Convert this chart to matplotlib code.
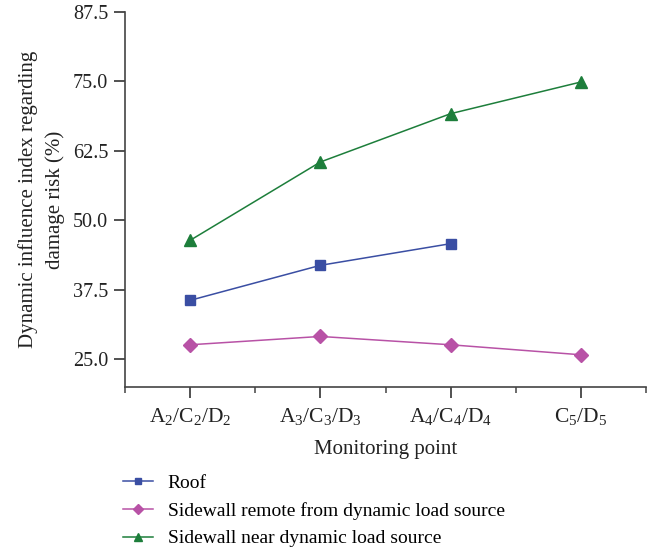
import matplotlib
matplotlib.use("Agg")
import matplotlib.pyplot as plt
from matplotlib.ticker import FixedLocator

plt.rcParams['font.family'] = ['Liberation Serif', 'DejaVu Serif']
plt.rcParams['mathtext.default'] = 'regular'

categories = ["A$_2$/C$_2$/D$_2$", "A$_3$/C$_3$/D$_3$", "A$_4$/C$_4$/D$_4$", "C$_5$/D$_5$"]
roof = [35.6, 41.9, 45.8]
sidewall_remote = [27.6, 29.1, 27.6, 25.8]
sidewall_near = [46.4, 60.5, 69.2, 74.9]
yticks = [25.0, 37.5, 50.0, 62.5, 75.0, 87.5]
series_names = ["Roof", "Sidewall remote from dynamic load source", "Sidewall near dynamic load source"]

fig = plt.figure(figsize=(6.61, 5.52), dpi=100)
ax = fig.add_axes([125/661, 1-387/552, (646-125)/661, (387-12)/552])

x_all = list(range(len(categories)))
ax.plot(x_all[:len(roof)], roof, color='#3a4ea3', marker='s', markersize=7, lw=1.1, label=series_names[0])
ax.plot(x_all, sidewall_remote, color='#b852a6', marker='D', markersize=7, lw=1.1, label=series_names[1])
ax.plot(x_all, sidewall_near, color='#1d7e3b', marker='^', markersize=8, lw=1.1, label=series_names[2])

ax.set_xlim(-0.5, 3.5)
ax.set_ylim(20, 87.5)
ax.set_yticks(yticks)
ax.set_yticklabels([f"{v:.1f}" for v in yticks], fontsize=14.5)
ax.set_xticks(x_all)
ax.set_xticklabels(categories, fontsize=15.5)
ax.xaxis.set_minor_locator(FixedLocator([-0.5, 0.5, 1.5, 2.5, 3.5]))

for s in ['top', 'right']:
    ax.spines[s].set_visible(False)
for s in ['left', 'bottom']:
    ax.spines[s].set_color('#444444')
    ax.spines[s].set_linewidth(1.2)

ax.tick_params(axis='both', which='major', colors='#222222', direction='out', length=8, width=1.1)
ax.tick_params(axis='x', which='minor', direction='out', length=4, width=1.1, colors='#444444')
ax.tick_params(axis='x', which='major', pad=6)
ax.tick_params(axis='y', which='major', pad=4)

ax.set_xlabel("Monitoring point", fontsize=15, color='#222222', labelpad=9)
ax.set_ylabel("Dynamic influence index regarding\ndamage risk (%)", fontsize=15, color='#222222',
              labelpad=6, linespacing=1.5)

handles, labels = ax.get_legend_handles_labels()
fig.legend(handles, labels, loc='upper left', bbox_to_anchor=(123/661, 1-474/552),
           frameon=False, fontsize=14, handlelength=1.55, handletextpad=0.75,
           labelspacing=0.52, markerscale=0.7, borderaxespad=0, borderpad=0)

fig.savefig("out.png", dpi=100)
